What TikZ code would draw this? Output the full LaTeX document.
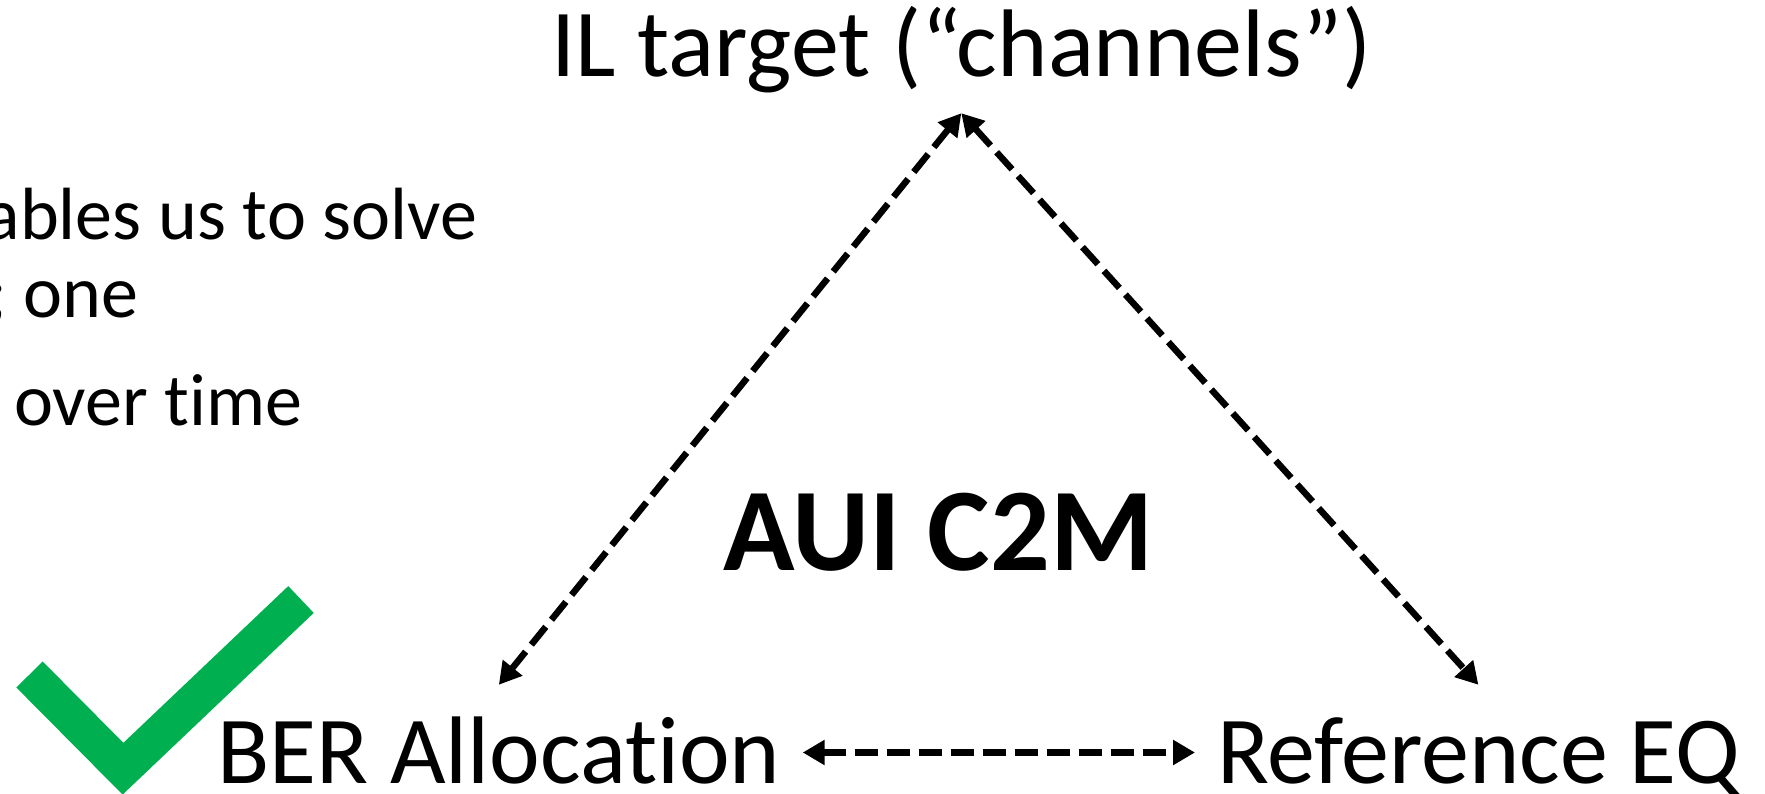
\documentclass[tikz,border=0pt]{standalone}
\usepackage{fontspec}
\setmainfont{Carlito}[Ligatures=NoCommon]
\usepackage{tikz}
\usetikzlibrary{arrows.meta}
\definecolor{okgreen}{HTML}{00B050}

\begin{document}
\begin{tikzpicture}[x=1pt, y=-1pt,
  label/.style={inner sep=0pt, anchor=base west, font=\fontsize{96}{110}\selectfont, text height=98pt, text depth=37pt},
  note/.style={inner sep=0pt, anchor=base west, font=\fontsize{74}{88}\selectfont},
  title/.style={inner sep=0pt, anchor=base west, font=\fontsize{118}{132}\selectfont\bfseries},
  link/.style={{Triangle[length=22pt,width=24pt]}-{Triangle[length=22pt,width=24pt]}, line width=6.5pt, dash pattern=on 23pt off 9pt}
]
  \useasboundingbox (0,0) rectangle (1765,793);

  % left notes (cut at the page edge)
  \node[note] (l1) at (-15.5,239) {ables us to solve};
  \node[note] (l2) at (-13,317) {; one};
  \node[note] (l3) at (14,425) {over time};

  \node[label] (il) at (551,76) {IL target (“channels”)};
  \node[title] (aui) at (723,570) {AUI C2M};
  \node[label] (ber) at (217,783) {BER Allocation};
  \node[label] (ref) at (1217,783) {Reference EQ};

  \draw[link] (il.south) -- (ber.north);
  \draw[link] (il.south) -- (ref.north);
  \draw[link, shorten <=22pt, shorten >=22pt] (ber.east) -- (ref.west);

  % check mark
  \draw[okgreen, line width=37pt, line join=miter] (29.5,674.5) -- (123,768.7) -- (301,599.5);
\end{tikzpicture}
\end{document}
